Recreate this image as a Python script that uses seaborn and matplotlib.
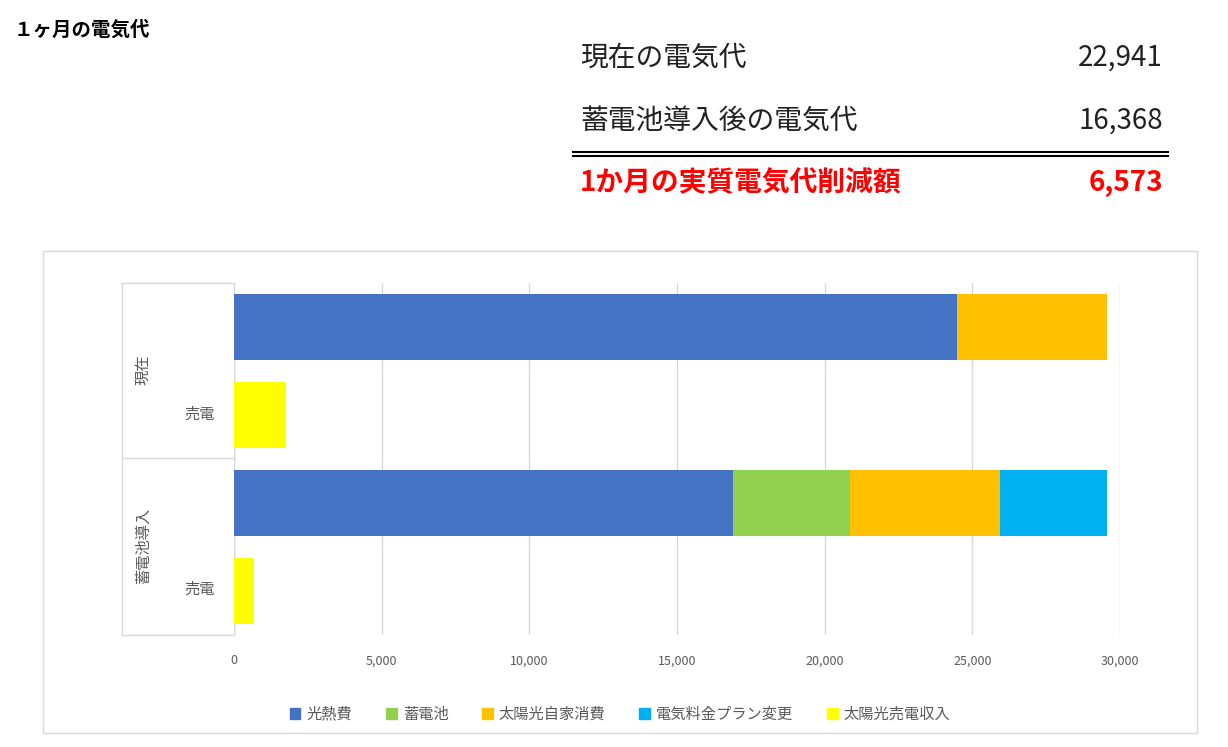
import matplotlib
matplotlib.use("Agg")
import matplotlib.pyplot as plt
import seaborn as sns
import pandas as pd
import numpy as np
from matplotlib.patches import Rectangle
from matplotlib.lines import Line2D

plt.rcParams["font.family"] = "Noto Sans CJK JP"

rows = ["現在", "現在売電", "導入", "導入売電"]
series = ["光熱費", "蓄電池", "太陽光自家消費", "電気料金プラン変更", "太陽光売電収入"]
colors = ["#4472C4", "#92D050", "#FFC000", "#00B0F0", "#FFFF00"]
values = {
    "光熱費":          [24480, 0, 16900, 0],
    "蓄電池":          [0, 0, 3960, 0],
    "太陽光自家消費":  [5080, 0, 5080, 0],
    "電気料金プラン変更": [0, 0, 3620, 0],
    "太陽光売電収入":  [0, 1760, 0, 680],
}
table_labels = ["現在の電気代", "蓄電池導入後の電気代", "1か月の実質電気代削減額"]
table_values = ["22,941", "16,368", "6,573"]
xticks = [0, 5000, 10000, 15000, 20000, 25000, 30000]

fig = plt.figure(figsize=(12.28, 7.47), dpi=100)
W, H = 1228, 747
def fx(x): return x / W
def fy(y): return 1 - y / H

fig.text(fx(14), fy(30), "１ヶ月の電気代", fontsize=14, fontweight="bold", va="center")
ys = [58, 121, 183]
for i, (l, v) in enumerate(zip(table_labels, table_values)):
    kw = dict(fontsize=20, va="center", color="#222222")
    if i == 2:
        kw.update(color="#FF0000", fontweight="bold")
    fig.text(fx(580), fy(ys[i]), l, ha="left", **kw)
    fig.text(fx(1163), fy(ys[i]), v, ha="right", **kw)
for yy in (152, 156):
    fig.add_artist(Line2D([fx(573), fx(1168)], [fy(yy), fy(yy)], color="black", lw=1.5))

fig.add_artist(Rectangle((fx(43), fy(733)), fx(1197) - fx(43), fy(251) - fy(733),
                         fill=False, edgecolor="#D9D9D9", lw=1))

ax = fig.add_axes([fx(234), fy(635), fx(1120) - fx(234), fy(283) - fy(635)])
df = pd.DataFrame(values, index=rows)
cum = df.cumsum(axis=1)
for s, c in reversed(list(zip(series, colors))):
    d = pd.DataFrame({"row": rows, "val": cum[s].values})
    sns.barplot(data=d, y="row", x="val", orient="h", color=c, ax=ax,
                width=0.76, saturation=1, zorder=3)
ax.set_xlim(0, 30000)
ax.set_ylim(3.5, -0.5)
ax.set_xticks(xticks)
ax.set_xticklabels([f"{t:,}" for t in xticks], fontsize=9, color="#595959")
ax.set_yticks([])
ax.set_xlabel(""); ax.set_ylabel("")
ax.grid(axis="x", color="#D9D9D9", lw=1, zorder=0)
for sp in ax.spines.values():
    sp.set_visible(False)
ax.tick_params(axis="x", length=0, pad=14)
ax.add_artist(Line2D([0, 0], [0, 1], transform=ax.transAxes, color="#D9D9D9", lw=1))

# category labels
lc = "#D9D9D9"
fig.add_artist(Line2D([fx(122), fx(122)], [fy(283), fy(635)], color=lc, lw=1))
for yy in (283, 458, 635):
    fig.add_artist(Line2D([fx(122), fx(234)], [fy(yy), fy(yy)], color=lc, lw=1))
fig.text(fx(143), fy(370), "現在", rotation=90, ha="center", va="center", fontsize=11, color="#595959")
fig.text(fx(143), fy(546), "蓄電池導入", rotation=90, ha="center", va="center", fontsize=11, color="#595959")
for yy in (414, 589):
    fig.text(fx(215), fy(yy), "売電", ha="right", va="center", fontsize=11, color="#595959")

handles = [Rectangle((0, 0), 1, 1, color=c) for c in colors]
fig.legend(handles, series, loc="center", bbox_to_anchor=(fx(620), fy(714)), ncol=5,
           frameon=False, fontsize=11, handlelength=0.7, handleheight=0.7,
           columnspacing=2.2, handletextpad=0.4, labelcolor="#595959")

fig.savefig("out.png", dpi=100)
